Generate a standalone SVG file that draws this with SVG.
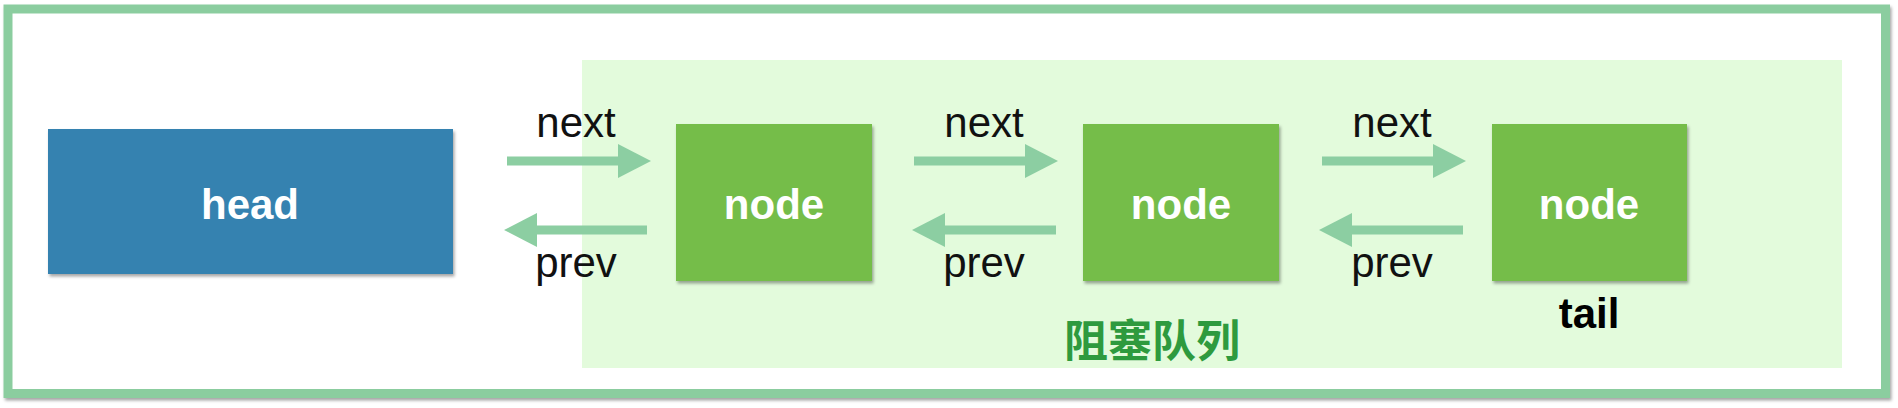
<svg xmlns="http://www.w3.org/2000/svg" width="1898" height="408" viewBox="0 0 1898 408">
<defs>
<filter id="sh" x="-5%" y="-5%" width="110%" height="115%">
<feDropShadow dx="1.5" dy="2.5" stdDeviation="1.5" flood-color="#000" flood-opacity="0.35"/>
</filter>
<marker id="ah" viewBox="0 0 33 34" refX="2" refY="17" markerWidth="33" markerHeight="34" markerUnits="userSpaceOnUse" orient="auto">
<path d="M0,0 L33,17 L0,34 Z" fill="#8ccea2"/>
</marker>
</defs>
<style>
.lbl{font-family:"Liberation Sans",Arial,sans-serif;font-size:42px;fill:#111;text-anchor:middle}
.bold{font-family:"Liberation Sans",Arial,sans-serif;font-size:42px;font-weight:bold;text-anchor:middle}
.wt{fill:#fff}
.conn{stroke:#8ccea2;stroke-width:9;fill:none;marker-end:url(#ah)}
.nd{fill:#74bd4a;filter:url(#sh)}
</style>
<rect width="1898" height="408" fill="#fff"/>
<g id="frame">
<rect x="8" y="9" width="1877.5" height="384.5" fill="#fff" stroke="#8bcd9f" stroke-width="9" filter="url(#sh)"/>
</g>
<g id="queue">
<rect x="582" y="60" width="1260" height="308" fill="#e3fbdc"/>
<text x="1152" y="357" font-family="'Noto Sans CJK SC',sans-serif" font-size="44" font-weight="bold" fill="#2e9a3e" text-anchor="middle">阻塞队列</text>
</g>
<g id="head">
<rect x="48" y="129" width="405" height="145" fill="#3582b0" filter="url(#sh)"/>
<text x="250" y="219" class="bold wt">head</text>
</g>
<g id="node1">
<rect x="676" y="124" width="196" height="157" class="nd"/>
<text x="774" y="219" class="bold wt">node</text>
</g>
<g id="node2">
<rect x="1083" y="124" width="196" height="157" class="nd"/>
<text x="1181" y="219" class="bold wt">node</text>
</g>
<g id="node3">
<rect x="1492" y="124" width="195" height="157" class="nd"/>
<text x="1589" y="219" class="bold wt">node</text>
<text x="1589" y="328" class="bold" fill="#000">tail</text>
</g>
<g id="connectors">
<line x1="507" y1="161" x2="620" y2="161" class="conn"/>
<line x1="647" y1="230" x2="535" y2="230" class="conn"/>
<line x1="914" y1="161" x2="1027" y2="161" class="conn"/>
<line x1="1056" y1="230" x2="943" y2="230" class="conn"/>
<line x1="1322" y1="161" x2="1435" y2="161" class="conn"/>
<line x1="1463" y1="230" x2="1350" y2="230" class="conn"/>
<text x="576" y="137" class="lbl">next</text>
<text x="576" y="277" class="lbl">prev</text>
<text x="984" y="137" class="lbl">next</text>
<text x="984" y="277" class="lbl">prev</text>
<text x="1392" y="137" class="lbl">next</text>
<text x="1392" y="277" class="lbl">prev</text>
</g>
</svg>
